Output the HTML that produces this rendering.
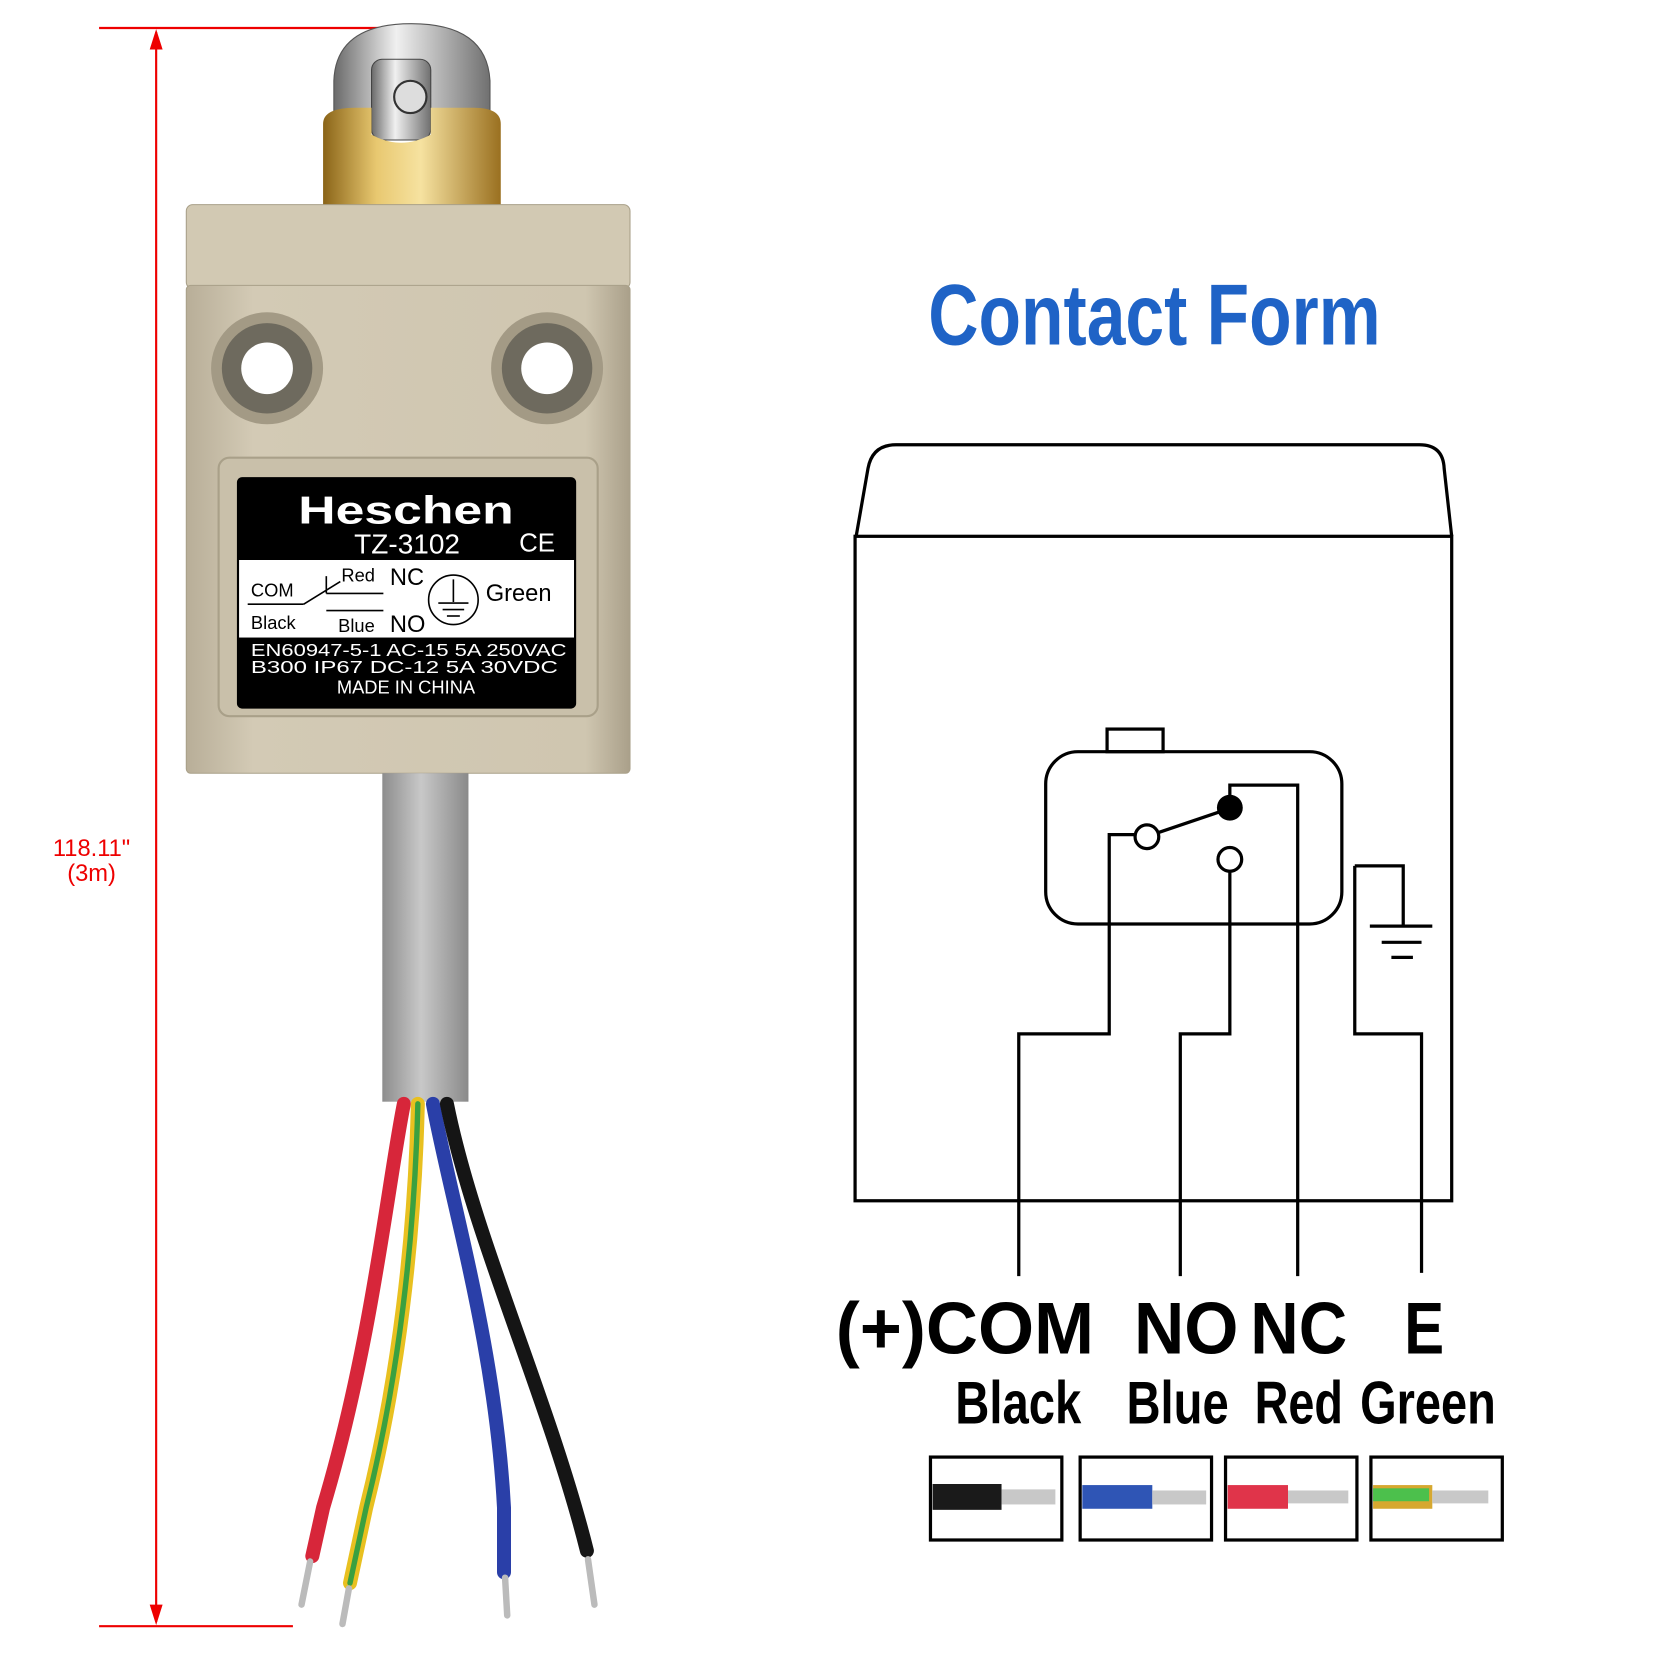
<!DOCTYPE html>
<html><head><meta charset="utf-8"><style>html,body{margin:0;padding:0;background:#fff}svg{display:block}</style></head>
<body>
<svg width="1680" height="1680" viewBox="0 0 1560 1560" xmlns="http://www.w3.org/2000/svg">
<defs>
<linearGradient id="cab" x1="0" x2="1"><stop offset="0" stop-color="#8d8d8d"/><stop offset="0.45" stop-color="#c8c8c8"/><stop offset="1" stop-color="#8a8a8a"/></linearGradient>
<linearGradient id="brass" x1="0" x2="1"><stop offset="0" stop-color="#8a6418"/><stop offset="0.3" stop-color="#e8c870"/><stop offset="0.55" stop-color="#f6e2a0"/><stop offset="1" stop-color="#9a7020"/></linearGradient>
<linearGradient id="silver" x1="0" x2="1"><stop offset="0" stop-color="#6a6a6a"/><stop offset="0.4" stop-color="#f0f0f0"/><stop offset="1" stop-color="#707070"/></linearGradient>
<linearGradient id="body" x1="0" x2="1"><stop offset="0" stop-color="#b8ae98"/><stop offset="0.15" stop-color="#d3cab5"/><stop offset="0.9" stop-color="#cfc6b0"/><stop offset="1" stop-color="#aaa08a"/></linearGradient>
</defs>
<g stroke="#e00" stroke-width="2" fill="none">
<line x1="92" y1="26" x2="355" y2="26"/><line x1="92" y1="1510" x2="272" y2="1510"/>
<line x1="145" y1="30" x2="145" y2="1506"/></g>
<path d="M145 27 L139 46 L151 46 Z M145 1509 L139 1490 L151 1490 Z" fill="#e00"/>
<text x="85" y="795" font-family="Liberation Sans" font-size="22" fill="#e00" text-anchor="middle">118.11"</text>
<text x="85" y="818" font-family="Liberation Sans" font-size="22" fill="#e00" text-anchor="middle">(3m)</text>
<path d="M310 105 L310 75 Q312 22 382 22 Q452 22 455 75 L455 105 Z" fill="url(#silver)" stroke="#555" stroke-width="1"/>
<rect x="345" y="55" width="55" height="75" rx="10" fill="url(#silver)" stroke="#444"/>
<circle cx="381" cy="90" r="15" fill="#ddd" stroke="#333" stroke-width="2"/>
<path d="M300 115 Q300 100 330 100 L345 100 L345 125 Q372 140 400 125 L400 100 L440 100 Q465 100 465 115 L465 192 L300 192 Z" fill="url(#brass)"/>
<rect x="173" y="190" width="412" height="78" rx="6" fill="#d2c9b3" stroke="#a9a089"/>
<rect x="173" y="265" width="412" height="453" rx="4" fill="url(#body)" stroke="#a9a089"/>
<circle cx="248" cy="342" r="52" fill="#a39a85"/><circle cx="248" cy="342" r="42" fill="#6e6a5e"/><circle cx="248" cy="342" r="24" fill="#fff"/>
<circle cx="508" cy="342" r="52" fill="#a39a85"/><circle cx="508" cy="342" r="42" fill="#6e6a5e"/><circle cx="508" cy="342" r="24" fill="#fff"/>
<rect x="203" y="425" width="352" height="240" rx="10" fill="#c9c0aa" stroke="#a9a089" stroke-width="2"/>
<rect x="220" y="443" width="315" height="215" rx="5" fill="#000"/>
<rect x="222" y="520" width="311" height="72" fill="#fff"/>
<g font-family="Liberation Sans">
<text x="277" y="486" font-size="36" font-weight="bold" fill="#fff" textLength="200" lengthAdjust="spacingAndGlyphs">Heschen</text>
<text x="378" y="514" font-size="26" fill="#fff" text-anchor="middle">TZ-3102</text>
<text x="482" y="512" font-size="24" fill="#fff">CE</text>
<text x="233" y="554" font-size="17">COM</text><text x="233" y="584" font-size="17">Black</text>
<text x="317" y="540" font-size="17">Red</text><text x="362" y="543" font-size="22">NC</text>
<text x="314" y="587" font-size="17">Blue</text><text x="362" y="587" font-size="22">NO</text>
<text x="451" y="558" font-size="22">Green</text>
<text x="233" y="609" font-size="16" fill="#fff" textLength="293" lengthAdjust="spacingAndGlyphs">EN60947-5-1  AC-15   5A  250VAC</text>
<text x="233" y="625" font-size="16" fill="#fff" textLength="285" lengthAdjust="spacingAndGlyphs">B300   IP67    DC-12  5A  30VDC</text>
<text x="377" y="644" font-size="17" fill="#fff" text-anchor="middle">MADE IN CHINA</text>
</g>
<g stroke="#000" stroke-width="1.5" fill="none">
<line x1="230" y1="561" x2="282" y2="561"/><line x1="282" y1="561" x2="316" y2="540"/><line x1="303" y1="535" x2="303" y2="551"/>
<line x1="303" y1="551" x2="356" y2="551"/><line x1="303" y1="567" x2="356" y2="567"/>
<circle cx="421" cy="557" r="23"/><line x1="421" y1="538" x2="421" y2="559"/><line x1="407" y1="560" x2="435" y2="560"/><line x1="411" y1="566" x2="431" y2="566"/><line x1="415" y1="572" x2="427" y2="572"/>
</g>
<rect x="355" y="718" width="80" height="305" fill="url(#cab)"/>
<g fill="none" stroke-linecap="round" stroke-width="13">
<path d="M375 1025 C360 1100 345 1250 300 1400 L290 1445" stroke="#d7263a"/>
<path d="M388 1025 C385 1150 370 1280 340 1400 L325 1470" stroke="#e8c020"/>
<path d="M388 1025 C385 1150 370 1280 340 1400 L325 1470" stroke="#3aa040" stroke-width="5"/>
<path d="M402 1025 C420 1120 460 1250 468 1400 L468 1460" stroke="#2a3fa8"/>
<path d="M415 1025 C440 1150 510 1300 545 1440" stroke="#151515"/>
</g>
<g stroke="#bbb" stroke-width="6" stroke-linecap="round">
<line x1="288" y1="1450" x2="280" y2="1490"/><line x1="324" y1="1475" x2="318" y2="1508"/><line x1="469" y1="1465" x2="471" y2="1500"/><line x1="546" y1="1448" x2="552" y2="1490"/>
</g>
<text x="862" y="320" font-family="Liberation Sans" font-size="80" font-weight="bold" fill="#1f63c6" textLength="420" lengthAdjust="spacingAndGlyphs">Contact Form</text>
<g stroke="#000" stroke-width="3" fill="none">
<path d="M795 498 L806 435 Q810 413 832 413 L1318 413 Q1340 413 1341 435 L1348 498"/>
<rect x="794" y="498" width="554" height="617"/>
<rect x="971" y="698" width="275" height="160" rx="30" fill="#fff"/>
<rect x="1028" y="677" width="52" height="21"/>
<circle cx="1065" cy="777" r="11"/><circle cx="1142" cy="798" r="11"/>
<line x1="1076" y1="773" x2="1135" y2="753"/>
<path d="M1054 775 L1030 775 L1030 960 L946 960 L946 1185"/>
<path d="M1142 809 L1142 960 L1096 960 L1096 1185"/>
<path d="M1142 739 L1142 729 L1205 729 L1205 1185"/>
<path d="M1258 804 L1303 804 L1303 860"/>
<line x1="1272" y1="860" x2="1330" y2="860"/><line x1="1283" y1="875" x2="1320" y2="875"/><line x1="1292" y1="889" x2="1312" y2="889"/>
<path d="M1258 804 L1258 960 L1320 960 L1320 1182"/>
</g>
<circle cx="1142" cy="750" r="12" fill="#000"/>
<g font-family="Liberation Sans" font-weight="bold" fill="#000">
<text x="776" y="1257" font-size="68" textLength="240" lengthAdjust="spacingAndGlyphs">(+)COM</text>
<text x="1053" y="1257" font-size="68" textLength="97" lengthAdjust="spacingAndGlyphs">NO</text>
<text x="1161" y="1257" font-size="68" textLength="90" lengthAdjust="spacingAndGlyphs">NC</text>
<text x="1304" y="1257" font-size="68" textLength="37" lengthAdjust="spacingAndGlyphs">E</text>
<text x="887" y="1322" font-size="56" textLength="117" lengthAdjust="spacingAndGlyphs">Black</text>
<text x="1046" y="1322" font-size="56" textLength="95" lengthAdjust="spacingAndGlyphs">Blue</text>
<text x="1165" y="1322" font-size="56" textLength="82" lengthAdjust="spacingAndGlyphs">Red</text>
<text x="1263" y="1322" font-size="56" textLength="126" lengthAdjust="spacingAndGlyphs">Green</text>
</g>
<g stroke="#000" stroke-width="3" fill="#fff">
<rect x="864" y="1353" width="122" height="77"/><rect x="1003" y="1353" width="122" height="77"/><rect x="1138" y="1353" width="122" height="77"/><rect x="1273" y="1353" width="122" height="77"/>
</g>
<g>
<rect x="866" y="1378" width="64" height="24" fill="#1a1a1a"/><rect x="930" y="1383" width="50" height="14" fill="#c8c8c8"/>
<rect x="1005" y="1379" width="65" height="22" fill="#2f55b5"/><rect x="1070" y="1384" width="50" height="13" fill="#c8c8c8"/>
<rect x="1140" y="1379" width="56" height="22" fill="#e0344a"/><rect x="1196" y="1384" width="56" height="12" fill="#c8c8c8"/>
<rect x="1275" y="1379" width="55" height="22" fill="#d6a830"/><rect x="1275" y="1382" width="52" height="12" fill="#4cc04c"/><rect x="1330" y="1384" width="52" height="12" fill="#c8c8c8"/>
</g>
</svg>
</body></html>
